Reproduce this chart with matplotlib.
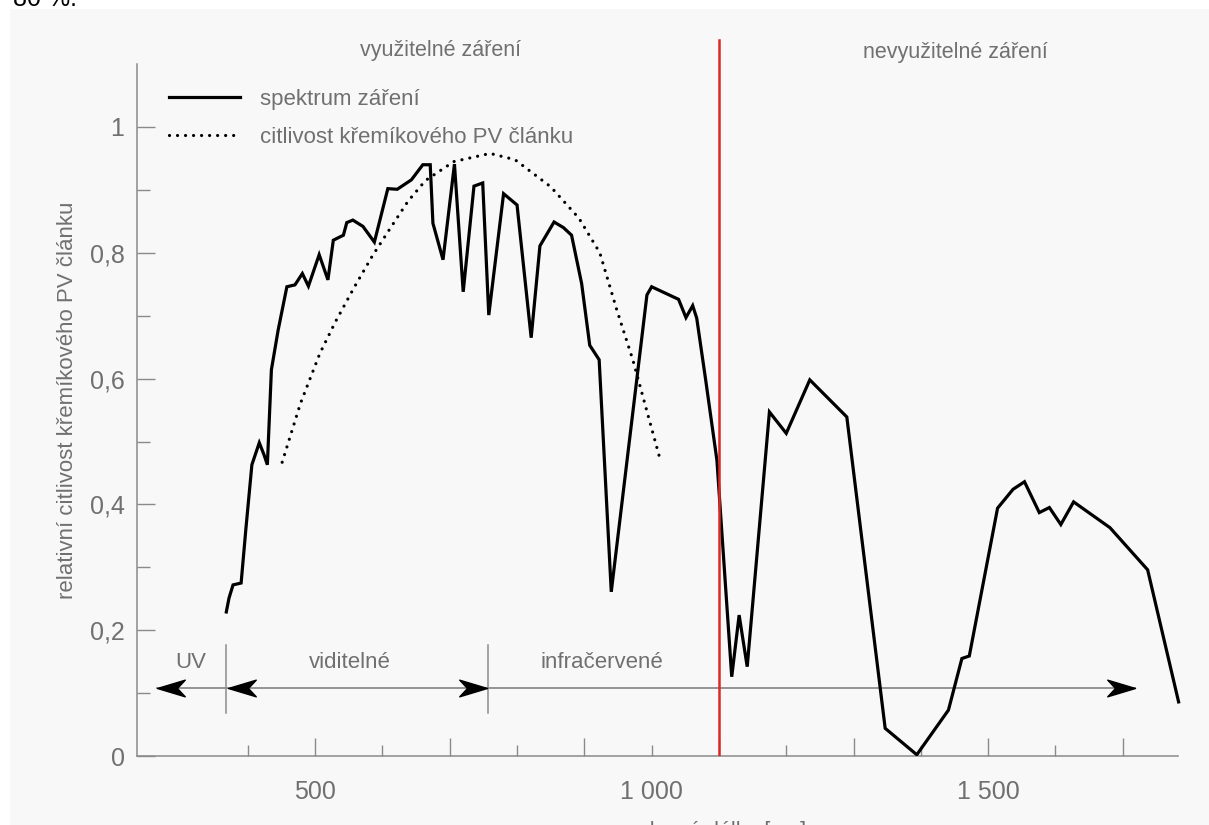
import numpy as np
import matplotlib
matplotlib.use("Agg")
import matplotlib.pyplot as plt
from matplotlib.path import Path
from matplotlib.patches import Rectangle

plt.rcParams['font.family'] = ['Liberation Sans', 'DejaVu Sans']

# spectrum of solar radiation (wavelength nm, relative value)
spectrum_nm = [368, 372, 378, 390, 397, 406, 417, 424, 429, 435, 445, 458, 470,
               481, 490, 506, 519, 527, 542, 547, 556, 571, 588, 608, 622, 643,
               660, 671, 675, 690, 707, 720, 736, 749, 758, 780, 800, 821, 834,
               855, 869, 881, 896, 908, 922, 940, 993, 1000, 1040, 1051, 1061,
               1067, 1080, 1097, 1119, 1130, 1142, 1175, 1200, 1235, 1290, 1347,
               1394, 1441, 1461, 1472, 1514, 1537, 1554, 1576, 1591, 1608, 1627,
               1681, 1737, 1783]
spectrum_val = [0.229, 0.251, 0.272, 0.275, 0.36, 0.463, 0.498, 0.479, 0.463,
                0.614, 0.677, 0.746, 0.749, 0.767, 0.747, 0.797, 0.757, 0.82,
                0.828, 0.848, 0.852, 0.842, 0.817, 0.902, 0.901, 0.916, 0.94,
                0.94, 0.847, 0.789, 0.941, 0.738, 0.906, 0.911, 0.701, 0.894,
                0.876, 0.665, 0.811, 0.849, 0.84, 0.828, 0.751, 0.653, 0.63,
                0.261, 0.733, 0.746, 0.726, 0.697, 0.716, 0.696, 0.60, 0.47,
                0.126, 0.224, 0.142, 0.547, 0.513, 0.598, 0.539, 0.044, 0.002,
                0.073, 0.155, 0.159, 0.394, 0.424, 0.436, 0.387, 0.395, 0.368,
                0.404, 0.363, 0.296, 0.086]

# sensitivity of silicon PV cell
cell_nm = [451, 478, 507, 530, 558, 585, 611, 638, 664, 706, 760, 797, 850, 892,
           923, 948, 972, 993, 1013]
cell_val = [0.467, 0.56, 0.64, 0.69, 0.745, 0.795, 0.838, 0.882, 0.915, 0.945,
            0.958, 0.948, 0.905, 0.855, 0.80, 0.71, 0.63, 0.548, 0.47]

boundary_nm = 1100
region_edges = [265, 368, 757, 1718]
region_labels = ["UV", "viditelné", "infračervené"]
region_label_x = [315, 551, 926]

tick_pos = list(range(400, 1800, 100))
tick_text = {500: "500", 1000: "1 000", 1500: "1 500"}
ytick_pos = [0.1 * i for i in range(11)]
ytick_text = {0: "0", 2: "0,2", 4: "0,4", 6: "0,6", 8: "0,8", 10: "1"}

GRAY = '#707070'
AXC = '#8a8a8a'

fig = plt.figure(figsize=(12.09, 8.25), dpi=100, facecolor='white')
fig.patches.append(Rectangle((10 / 1209, 0), 1, 1 - 9 / 825, transform=fig.transFigure,
                             facecolor='#f8f8f8', edgecolor='none', zorder=-10))
fig.text(13 / 1209, 1 - 6 / 825, "80 %.", fontsize=18, va='baseline', color='black')

ax = fig.add_axes([137 / 1209, 69 / 825, 1072 / 1209, 726 / 825])
ax.set_facecolor('none')
x_lo = 235.3
ax.set_xlim(x_lo, x_lo + 1072 / 0.673)
ax.set_ylim(0, 726 / 629)

for s in ['top', 'right']:
    ax.spines[s].set_visible(False)
for s in ['left', 'bottom']:
    ax.spines[s].set_color(AXC)
    ax.spines[s].set_linewidth(1.1)
ax.spines['bottom'].set_bounds(x_lo, 1782)
ax.spines['left'].set_bounds(0, 1.1)

ax.set_xticks(tick_pos)
ax.set_xticklabels([tick_text.get(t, "") for t in tick_pos])
ax.set_yticks(ytick_pos)
ax.set_yticklabels([ytick_text.get(i, "") for i in range(11)])
ax.tick_params(direction='in', color=AXC, width=1.0, labelcolor=GRAY, labelsize=18)
ax.tick_params(axis='x', pad=17)
ax.tick_params(axis='y', pad=9)
for t, tk in zip(tick_pos, ax.xaxis.get_major_ticks()):
    tk.tick1line.set_markersize(13 if (t // 100) % 2 == 1 else 8)
for i, tk in enumerate(ax.yaxis.get_major_ticks()):
    tk.tick1line.set_markersize(13 if i % 2 == 0 else 9)

# curves
ax.plot(spectrum_nm, spectrum_val, color='black', lw=2.3, solid_joinstyle='miter',
        label="spektrum záření", zorder=5)
ax.plot(cell_nm, cell_val, color='black', lw=2.3, linestyle=(0, (0.01, 2.5)),
        dash_capstyle='round', label="citlivost křemíkového PV článku", zorder=4)

# boundary of usable radiation
ax.axvline(boundary_nm, ymin=0, ymax=1.138 / (726 / 629), color='#d8282a', lw=1.8, zorder=6)
ax.text(686, 1.122, "využitelné záření", ha='center', va='center', fontsize=15.5, color=GRAY)
ax.text(1451, 1.118, "nevyužitelné záření", ha='center', va='center', fontsize=15.5, color=GRAY)

# spectral regions
arrow_y = 0.108
ax.plot([region_edges[0], region_edges[-1]], [arrow_y, arrow_y], color='#8c8c8c', lw=1.3, zorder=2)
for e in region_edges[1:3]:
    ax.plot([e, e], [0.068, 0.176], color='#8c8c8c', lw=1.1, zorder=2)
head = Path([(0, 0), (-1, 0.3), (-0.72, 0), (-1, -0.3), (0, 0)],
            [Path.MOVETO, Path.LINETO, Path.LINETO, Path.LINETO, Path.CLOSEPOLY])
head_l = Path([(0, 0), (1, 0.3), (0.72, 0), (1, -0.3), (0, 0)],
              [Path.MOVETO, Path.LINETO, Path.LINETO, Path.LINETO, Path.CLOSEPOLY])
ax.plot([region_edges[0], region_edges[1] + 3], [arrow_y, arrow_y], linestyle='none',
        marker=head_l, markersize=40, color='black', zorder=3)
ax.plot([region_edges[2] - 1, region_edges[3]], [arrow_y, arrow_y], linestyle='none',
        marker=head, markersize=40, color='black', zorder=3)
for lx, lab in zip(region_label_x, region_labels):
    ax.text(lx, 0.148, lab, ha='center', va='center', fontsize=16, color=GRAY)

leg = ax.legend(loc='upper left', bbox_to_anchor=(31.6 / 1072, (756 - 89) / 726),
                frameon=False, fontsize=16, handlelength=3.2, handletextpad=0.9,
                labelspacing=0.75, borderpad=0, borderaxespad=0)
for txt in leg.get_texts():
    txt.set_color(GRAY)

fig.text(68 / 1209, 1 - 400 / 825, "relativní citlivost křemíkového PV článku",
         rotation=90, ha='center', va='center', fontsize=16, color=GRAY)
fig.text(723 / 1209, 1 - 832 / 825, "vlnová délka [nm]", ha='center', va='center',
         fontsize=15.5, color=GRAY)

fig.savefig("out.png", dpi=100, facecolor=fig.get_facecolor())
